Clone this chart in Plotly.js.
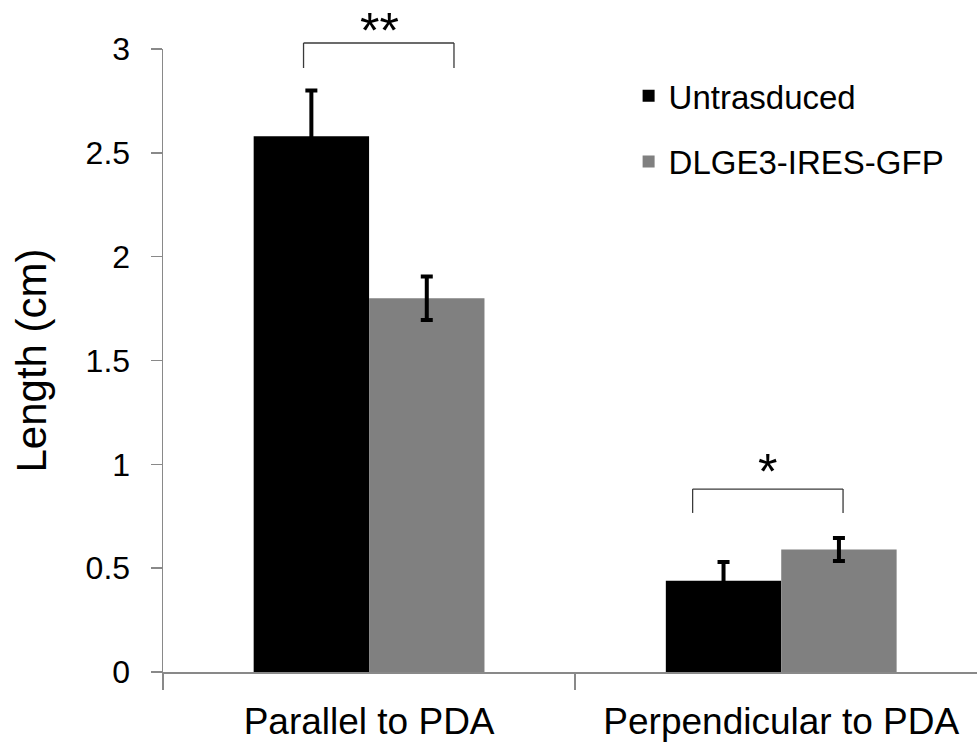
<!DOCTYPE html>
<html>
<head>
<meta charset="utf-8">
<script src="https://cdn.plot.ly/plotly-3.0.1.min.js"></script>
<style>html,body{margin:0;padding:0;background:#fff;}#chart{width:977px;height:749px;}</style>
</head>
<body>
<div id="chart"></div>
<script>
const categories = ["Parallel to PDA", "Perpendicular to PDA"];
const seriesNames = ["Untrasduced", "DLGE3-IRES-GFP"];
const untransducedValues = [2.58, 0.44];
const untransducedErrors = [0.22, 0.09];
const dlgeValues = [1.80, 0.59];
const dlgeErrors = [0.105, 0.055];
const yTicks = [0, 0.5, 1, 1.5, 2, 2.5, 3];
const yTickText = ["0", "0.5", "1", "1.5", "2", "2.5", "3"];
const sigLabels = ["**", "*"];

const FONT = "Liberation Sans, Arial, sans-serif";
const AXIS_COLOR = "#898989";

const traces = [
  {
    type: "bar", name: seriesNames[0], x: categories, y: untransducedValues,
    marker: {color: "#000000"}, legendgroup: "a",
    error_y: {type: "data", array: untransducedErrors, visible: true, color: "#000000", thickness: 4, width: 6}
  },
  {
    type: "bar", name: seriesNames[1], x: categories, y: dlgeValues,
    marker: {color: "#808080"}, legendgroup: "b",
    error_y: {type: "data", array: dlgeErrors, visible: true, color: "#000000", thickness: 4, width: 6}
  }
];

const bracketColor = "#3a3a3a";
function bracket(x0, x1, yTop, yBot, yref) {
  const s = {type: "line", xref: "x", yref: yref, line: {color: bracketColor, width: 1.3}};
  return [
    Object.assign({}, s, {x0: x0, x1: x0, y0: yBot, y1: yTop}),
    Object.assign({}, s, {x0: x0, x1: x1, y0: yTop, y1: yTop}),
    Object.assign({}, s, {x0: x1, x1: x1, y0: yBot, y1: yTop})
  ];
}

const layout = {
  width: 977, height: 749,
  margin: {l: 163, r: 0, t: 49, b: 77, autoexpand: false},
  paper_bgcolor: "#ffffff", plot_bgcolor: "#ffffff",
  font: {family: FONT, color: "#000000"},
  barmode: "group", bargap: 0.44, bargroupgap: 0,
  showlegend: true,
  legend: {
    x: 0.572, y: 0.97, xanchor: "left", yanchor: "top",
    font: {family: FONT, size: 33, color: "#000000"},
    traceorder: "grouped", tracegroupgap: 20,
    bgcolor: "rgba(0,0,0,0)"
  },
  xaxis: {
    type: "category", range: [-0.5, 1.475],
    showline: true, linecolor: AXIS_COLOR, linewidth: 1.5,
    ticks: "outside", tickson: "boundaries", ticklen: 16, tickcolor: AXIS_COLOR, tickwidth: 1.5,
    tickfont: {family: FONT, size: 37, color: "#000000"},
    ticklabelstandoff: 16,
    showgrid: false, zeroline: false, fixedrange: true
  },
  yaxis: {
    range: [0, 3], tickvals: yTicks, ticktext: yTickText,
    showline: true, linecolor: AXIS_COLOR, linewidth: 1.5,
    ticks: "outside", ticklen: 11, tickcolor: AXIS_COLOR, tickwidth: 1.5,
    tickfont: {family: FONT, size: 32, color: "#000000"},
    ticklabelstandoff: 14,
    showgrid: false, zeroline: false,
    title: {text: "Length (cm)", font: {family: FONT, size: 42, color: "#000000"}, standoff: 26}
  },
  shapes: [].concat(
    bracket(-0.159, 0.206, 1.0096, 0.9695, "paper"),
    bracket(0.785, 1.150, 0.881, 0.766, "y")
  ),
  annotations: [
    {x: 0.026, y: 1.077, xref: "x", yref: "paper", text: sigLabels[0], showarrow: false,
     xanchor: "center", yanchor: "top", font: {family: FONT, size: 50, color: "#000000"}},
    {x: 0.967, y: 0.82, xref: "x", yref: "y", text: sigLabels[1], showarrow: false,
     xanchor: "center", yanchor: "bottom", font: {family: FONT, size: 50, color: "#000000"}}
  ]
};

Plotly.newPlot("chart", traces, layout, {displayModeBar: false, staticPlot: true});
</script>
</body>
</html>
